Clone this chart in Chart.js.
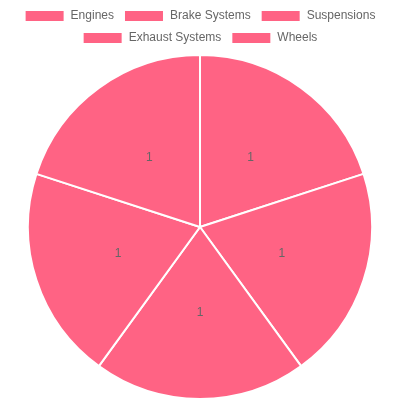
<!DOCTYPE html>
<html><head><meta charset="utf-8">
<script src="https://cdn.jsdelivr.net/npm/chart.js@4"></script>
<style>html,body{margin:0;padding:0;background:#fff}#w{width:400px;height:400px}</style>
</head><body><div id="w"><canvas id="c"></canvas></div>
<script>
const categories = ["Engines", "Brake Systems", "Suspensions", "Exhaust Systems", "Wheels"];
const values = [1, 1, 1, 1, 1];

const labelPlugin = {
  id: 'sliceLabels',
  afterDatasetsDraw(chart) {
    const ctx = chart.ctx;
    const meta = chart.getDatasetMeta(0);
    ctx.save();
    ctx.font = '12px "Helvetica Neue", Helvetica, Arial, sans-serif';
    ctx.fillStyle = '#666';
    ctx.textAlign = 'center';
    ctx.textBaseline = 'middle';
    meta.data.forEach((arc, i) => {
      const p = arc.tooltipPosition();
      ctx.fillText(String(chart.data.datasets[0].data[i]), p.x, p.y);
    });
    ctx.restore();
  }
};

new Chart(document.getElementById('c'), {
  type: 'pie',
  data: {
    labels: categories,
    datasets: [{
      data: values,
      backgroundColor: '#ff6384',
      borderColor: '#fff',
      borderWidth: 2
    }]
  },
  options: {
    responsive: true,
    maintainAspectRatio: false,
    animation: false,
    plugins: {
      legend: { position: 'top' },
      tooltip: { enabled: false }
    }
  },
  plugins: [labelPlugin]
});
</script></body></html>
